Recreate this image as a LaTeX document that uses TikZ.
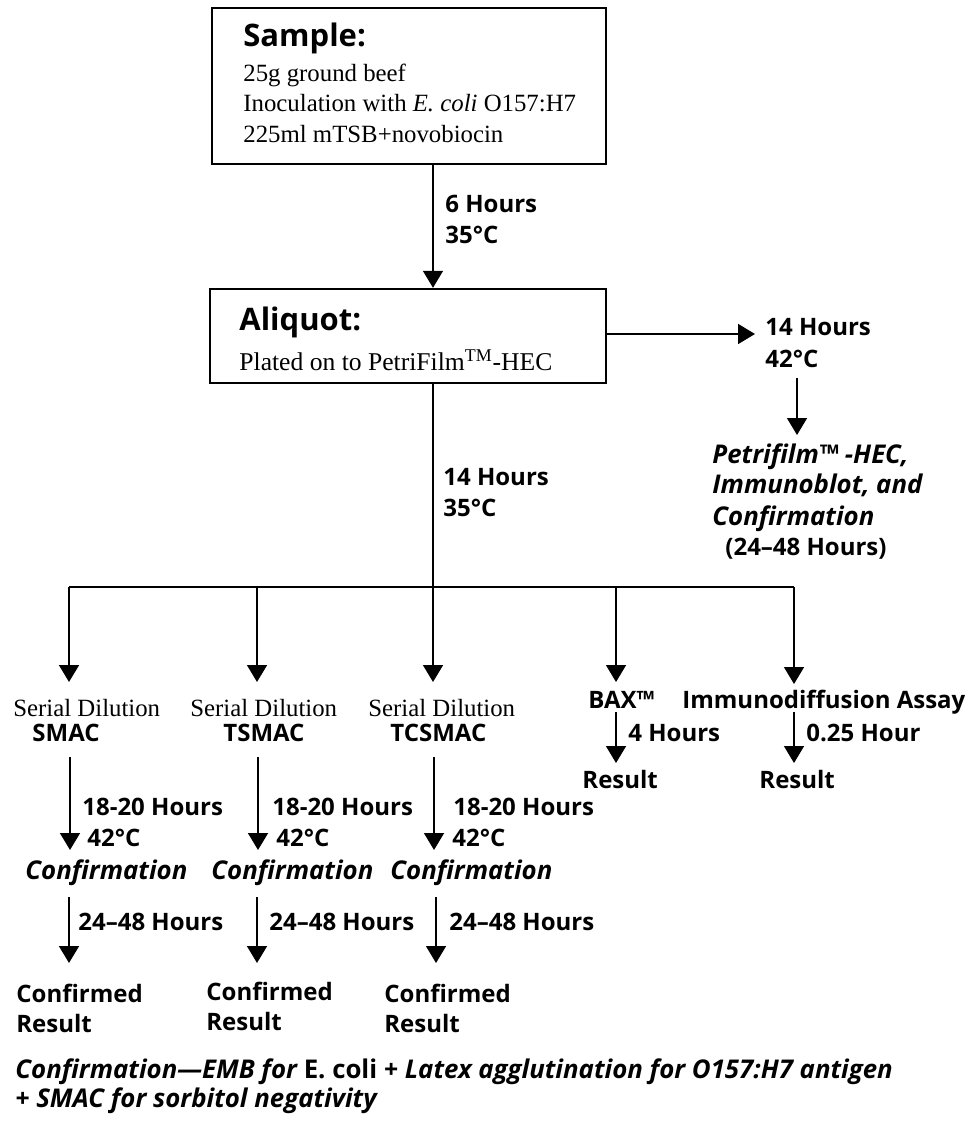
\documentclass[tikz,border=0pt]{standalone}
\usepackage{fontspec}
\setmainfont{Liberation Serif}
\setsansfont{Open Sans}
\usetikzlibrary{arrows.meta, positioning}

\newcommand{\headfont}{\sffamily\bfseries\fontsize{15.5}{18}\selectfont}
\newcommand{\tagfont}{\sffamily\bfseries\fontsize{12}{15}\selectfont}
\newcommand{\itagfont}{\sffamily\bfseries\itshape\fontsize{12.9}{15}\selectfont}
\newcommand{\serfont}{\rmfamily\fontsize{12.4}{15}\selectfont}

\tikzset{
  panel/.style={draw, line width=1.2pt, inner sep=0pt},
  flow/.style={line width=0.8pt, -{Triangle[width=10pt,length=8.5pt]}},
  wire/.style={line width=0.8pt},
  head/.style={anchor=base west, inner sep=0pt, font=\headfont},
  tag/.style={anchor=base west, inner sep=0pt, font=\tagfont},
  itag/.style={anchor=base west, inner sep=0pt, font=\itagfont},
  body/.style={anchor=base west, inner sep=0pt, font=\serfont}
}

\begin{document}
\begin{tikzpicture}[x=0.5pt, y=-0.5pt]
		\useasboundingbox (0,0) rectangle (973,1123);
		
		% Sample box (top)
		\node[panel, minimum width=197pt, minimum height=78pt] (sample) at (409,86) {};
		\node[head] (samplehd) at (243,47) {Sample:};
		\node[body] (beef) at (243,82) {25g ground beef};
		\node[body] (inoc) at (243,112) {Inoculation with \textit{E. coli} O157:H7};
		\node[body] (broth) at (243,143) {225ml mTSB+novobiocin};
		
		% Aliquot box
		\node[panel, minimum width=198pt, minimum height=47pt] (aliquot) at (408,336) {};
		\node[head] (aliquothd) at (239,330) {Aliquot:};
		\node[body, font=\rmfamily\fontsize{12.8}{15}\selectfont] (plated) at (239,370) {Plated on to PetriFilm\textsuperscript{TM}-HEC};
		
		% Trunk
		\coordinate (trunk) at (433,0);
		\draw[flow] (sample.south -| trunk) -- (aliquot.north -| trunk);
		\node[tag] (h6) at (445,213) {6 Hours};
		\node[tag] (t6) at (445,243) {35°C};
		
		% Right branch (Petrifilm)
		\coordinate (rowR) at (0,334);
		\node[tag] (h14r) at (765,335) {14 Hours};
		\node[tag] (t14r) at (765,367) {42°C};
		\draw[flow] (aliquot.east |- rowR) -- (755,334);
		\coordinate (pfa) at (797,378);
		\coordinate (pfb) at (797,435);
		\draw[flow] (pfa) -- (pfb);
		\node[itag] (pf1) at (712,463) {Petrifilm™ -HEC,};
		\node[itag] (pf2) at (712,493) {Immunoblot, and};
		\node[itag] (pf3) at (712,525) {Confirmation};
		\node[tag] (pf4) at (725,555) {(24–48 Hours)};
		
		% Down to the bus
		\node[tag] (h14) at (443,485) {14 Hours};
		\node[tag] (t14) at (443,516) {35°C};
		\coordinate (busL) at (69,587);
		\coordinate (busR) at (794,587);
		\draw[wire] (aliquot.south -| trunk) -- (trunk |- busL);
		\draw[wire] (busL) -- (busR);
		\draw[flow] (busL) -- (69,682);
		\draw[flow] (257,587) -- (257,682);
		\draw[flow] (433,587) -- (433,682);
		\draw[flow] (616,587) -- (616,682);
		\draw[flow] (busR) -- (794,684);
		
		% Serial dilution columns
		\node[body] (sd1) at (13,716) {Serial Dilution};
		\node[body] (sd2) at (190,716) {Serial Dilution};
		\node[body] (sd3) at (368,716) {Serial Dilution};
		\node[tag] (agar1) at (32,741) {SMAC};
		\node[tag] (agar2) at (223,741) {TSMAC};
		\node[tag] (agar3) at (390,741) {TCSMAC};
		
		\draw[flow] (70,757) -- (70,850);
		\draw[flow] (258,757) -- (258,850);
		\draw[flow] (434,757) -- (434,850);
		\node[tag] (inc1) at (82,815) {18-20 Hours};
		\node[tag] (inc2) at (272,815) {18-20 Hours};
		\node[tag] (inc3) at (453,815) {18-20 Hours};
		\node[tag] (deg1) at (87,846) {42°C};
		\node[tag] (deg2) at (276,846) {42°C};
		\node[tag] (deg3) at (452,846) {42°C};
		
		\node[itag] (conf1) at (25,879) {Confirmation};
		\node[itag] (conf2) at (211,879) {Confirmation};
		\node[itag] (conf3) at (390,879) {Confirmation};
		
		\draw[flow] (69,897) -- (69,963);
		\draw[flow] (257,897) -- (257,963);
		\draw[flow] (436,897) -- (436,963);
		\node[tag] (wait1) at (78,930) {24–48 Hours};
		\node[tag] (wait2) at (269,930) {24–48 Hours};
		\node[tag] (wait3) at (449,930) {24–48 Hours};
		
		\node[tag] (done1) at (16,1002) {Confirmed};
		\node[tag] (done2) at (206,1000) {Confirmed};
		\node[tag] (done3) at (384,1002) {Confirmed};
		\node[tag] (res1) at (16,1032) {Result};
		\node[tag] (res2) at (206,1030) {Result};
		\node[tag] (res3) at (384,1032) {Result};
		
		% BAX and immunodiffusion
		\node[tag] (bax) at (588,708) {BAX™};
		\node[tag] (immuno) at (682,708) {Immunodiffusion Assay};
		\draw[flow] (616,712) -- (616,763);
		\draw[flow] (794,712) -- (794,763);
		\node[tag] (h4) at (628,741) {4 Hours};
		\node[tag] (h025) at (806,741) {0.25 Hour};
		\node[tag] (baxres) at (582,788) {Result};
		\node[tag] (immres) at (759,788) {Result};
		
		% Footnote
		\node[itag] (note1) at (15,1078) {Confirmation—EMB for {\upshape E. coli} + Latex agglutination for O157:H7 antigen};
		\node[itag] (note2) at (15,1107) {+ SMAC for sorbitol negativity};
	\end{tikzpicture}
\end{document}
